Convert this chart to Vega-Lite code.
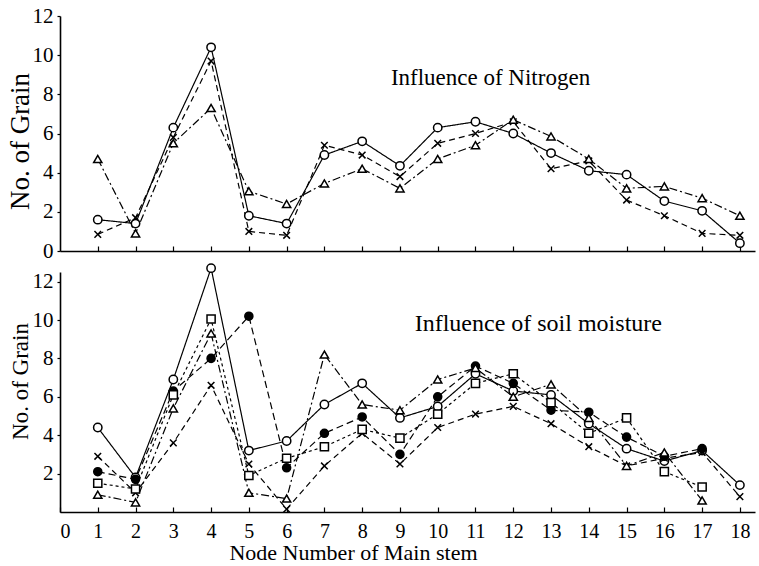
{
  "$schema": "https://vega.github.io/schema/vega-lite/v6.json",
  "padding": {"left": 6, "top": 5, "right": 5, "bottom": 2},
  "background": "white",
  "config": {
    "view": {"stroke": null},
    "font": "Liberation Serif",
    "text": {"font": "Liberation Serif"},
    "axis": {"grid": false, "domainColor": "black", "tickColor": "black", "labelColor": "black", "titleColor": "black", "labelFont": "Liberation Serif", "titleFont": "Liberation Serif", "titleFontWeight": "normal", "domainWidth": 1.6, "tickWidth": 1.2}
  },
  "datasets": {
    "nitrogen": [
      {"series": "circle", "node": 1, "grain": 1.6}, {"series": "circle", "node": 2, "grain": 1.4}, {"series": "circle", "node": 3, "grain": 6.3}, {"series": "circle", "node": 4, "grain": 10.4}, {"series": "circle", "node": 5, "grain": 1.8}, {"series": "circle", "node": 6, "grain": 1.4}, {"series": "circle", "node": 7, "grain": 4.9}, {"series": "circle", "node": 8, "grain": 5.6}, {"series": "circle", "node": 9, "grain": 4.35}, {"series": "circle", "node": 10, "grain": 6.3}, {"series": "circle", "node": 11, "grain": 6.6}, {"series": "circle", "node": 12, "grain": 6.0}, {"series": "circle", "node": 13, "grain": 5.0}, {"series": "circle", "node": 14, "grain": 4.1}, {"series": "circle", "node": 15, "grain": 3.9}, {"series": "circle", "node": 16, "grain": 2.55}, {"series": "circle", "node": 17, "grain": 2.05}, {"series": "circle", "node": 18, "grain": 0.4},
      {"series": "cross", "node": 1, "grain": 0.85}, {"series": "cross", "node": 2, "grain": 1.7}, {"series": "cross", "node": 3, "grain": 5.8}, {"series": "cross", "node": 4, "grain": 9.7}, {"series": "cross", "node": 5, "grain": 1.0}, {"series": "cross", "node": 6, "grain": 0.8}, {"series": "cross", "node": 7, "grain": 5.4}, {"series": "cross", "node": 8, "grain": 4.9}, {"series": "cross", "node": 9, "grain": 3.8}, {"series": "cross", "node": 10, "grain": 5.5}, {"series": "cross", "node": 11, "grain": 6.0}, {"series": "cross", "node": 12, "grain": 6.6}, {"series": "cross", "node": 13, "grain": 4.2}, {"series": "cross", "node": 14, "grain": 4.6}, {"series": "cross", "node": 15, "grain": 2.6}, {"series": "cross", "node": 16, "grain": 1.8}, {"series": "cross", "node": 17, "grain": 0.9}, {"series": "cross", "node": 18, "grain": 0.8},
      {"series": "triangle", "node": 1, "grain": 4.7}, {"series": "triangle", "node": 2, "grain": 0.9}, {"series": "triangle", "node": 3, "grain": 5.5}, {"series": "triangle", "node": 4, "grain": 7.3}, {"series": "triangle", "node": 5, "grain": 3.05}, {"series": "triangle", "node": 6, "grain": 2.4}, {"series": "triangle", "node": 7, "grain": 3.45}, {"series": "triangle", "node": 8, "grain": 4.2}, {"series": "triangle", "node": 9, "grain": 3.2}, {"series": "triangle", "node": 10, "grain": 4.7}, {"series": "triangle", "node": 11, "grain": 5.4}, {"series": "triangle", "node": 12, "grain": 6.7}, {"series": "triangle", "node": 13, "grain": 5.85}, {"series": "triangle", "node": 14, "grain": 4.7}, {"series": "triangle", "node": 15, "grain": 3.2}, {"series": "triangle", "node": 16, "grain": 3.3}, {"series": "triangle", "node": 17, "grain": 2.7}, {"series": "triangle", "node": 18, "grain": 1.8}
    ],
    "moisture": [
      {"series": "circle", "node": 1, "grain": 4.4}, {"series": "circle", "node": 2, "grain": 1.8}, {"series": "circle", "node": 3, "grain": 6.9}, {"series": "circle", "node": 4, "grain": 12.7}, {"series": "circle", "node": 5, "grain": 3.2}, {"series": "circle", "node": 6, "grain": 3.7}, {"series": "circle", "node": 7, "grain": 5.6}, {"series": "circle", "node": 8, "grain": 6.7}, {"series": "circle", "node": 9, "grain": 4.9}, {"series": "circle", "node": 10, "grain": 5.5}, {"series": "circle", "node": 11, "grain": 7.2}, {"series": "circle", "node": 12, "grain": 6.3}, {"series": "circle", "node": 13, "grain": 6.1}, {"series": "circle", "node": 14, "grain": 4.6}, {"series": "circle", "node": 15, "grain": 3.3}, {"series": "circle", "node": 16, "grain": 2.65}, {"series": "circle", "node": 17, "grain": 3.2}, {"series": "circle", "node": 18, "grain": 1.4},
      {"series": "cross", "node": 1, "grain": 2.9}, {"series": "cross", "node": 2, "grain": 1.0}, {"series": "cross", "node": 3, "grain": 3.6}, {"series": "cross", "node": 4, "grain": 6.6}, {"series": "cross", "node": 5, "grain": 2.5}, {"series": "cross", "node": 6, "grain": 0.15}, {"series": "cross", "node": 7, "grain": 2.4}, {"series": "cross", "node": 8, "grain": 4.1}, {"series": "cross", "node": 9, "grain": 2.5}, {"series": "cross", "node": 10, "grain": 4.4}, {"series": "cross", "node": 11, "grain": 5.1}, {"series": "cross", "node": 12, "grain": 5.5}, {"series": "cross", "node": 13, "grain": 4.6}, {"series": "cross", "node": 14, "grain": 3.4}, {"series": "cross", "node": 15, "grain": 2.4}, {"series": "cross", "node": 16, "grain": 2.8}, {"series": "cross", "node": 17, "grain": 3.1}, {"series": "cross", "node": 18, "grain": 0.8},
      {"series": "dot", "node": 1, "grain": 2.1}, {"series": "dot", "node": 2, "grain": 1.7}, {"series": "dot", "node": 3, "grain": 6.3}, {"series": "dot", "node": 4, "grain": 8.0}, {"series": "dot", "node": 5, "grain": 10.2}, {"series": "dot", "node": 6, "grain": 2.3}, {"series": "dot", "node": 7, "grain": 4.1}, {"series": "dot", "node": 8, "grain": 4.95}, {"series": "dot", "node": 9, "grain": 3.0}, {"series": "dot", "node": 10, "grain": 6.0}, {"series": "dot", "node": 11, "grain": 7.6}, {"series": "dot", "node": 12, "grain": 6.7}, {"series": "dot", "node": 13, "grain": 5.3}, {"series": "dot", "node": 14, "grain": 5.2}, {"series": "dot", "node": 15, "grain": 3.9}, {"series": "dot", "node": 16, "grain": 2.9}, {"series": "dot", "node": 17, "grain": 3.3},
      {"series": "square", "node": 1, "grain": 1.5}, {"series": "square", "node": 2, "grain": 1.2}, {"series": "square", "node": 3, "grain": 6.1}, {"series": "square", "node": 4, "grain": 10.05}, {"series": "square", "node": 5, "grain": 1.9}, {"series": "square", "node": 6, "grain": 2.8}, {"series": "square", "node": 7, "grain": 3.4}, {"series": "square", "node": 8, "grain": 4.3}, {"series": "square", "node": 9, "grain": 3.85}, {"series": "square", "node": 10, "grain": 5.1}, {"series": "square", "node": 11, "grain": 6.7}, {"series": "square", "node": 12, "grain": 7.2}, {"series": "square", "node": 13, "grain": 5.7}, {"series": "square", "node": 14, "grain": 4.1}, {"series": "square", "node": 15, "grain": 4.9}, {"series": "square", "node": 16, "grain": 2.1}, {"series": "square", "node": 17, "grain": 1.3},
      {"series": "triangle", "node": 1, "grain": 0.9}, {"series": "triangle", "node": 2, "grain": 0.5}, {"series": "triangle", "node": 3, "grain": 5.4}, {"series": "triangle", "node": 4, "grain": 9.3}, {"series": "triangle", "node": 5, "grain": 1.0}, {"series": "triangle", "node": 6, "grain": 0.7}, {"series": "triangle", "node": 7, "grain": 8.2}, {"series": "triangle", "node": 8, "grain": 5.6}, {"series": "triangle", "node": 9, "grain": 5.3}, {"series": "triangle", "node": 10, "grain": 6.9}, {"series": "triangle", "node": 11, "grain": 7.5}, {"series": "triangle", "node": 12, "grain": 6.0}, {"series": "triangle", "node": 13, "grain": 6.65}, {"series": "triangle", "node": 14, "grain": 4.9}, {"series": "triangle", "node": 15, "grain": 2.4}, {"series": "triangle", "node": 16, "grain": 3.1}, {"series": "triangle", "node": 17, "grain": 0.6}
    ]
  },
  "bounds": "flush",
  "spacing": 21,
  "vconcat": [
    {
      "width": 695,
      "height": 235,
      "layer": [
        {
          "data": {"name": "nitrogen"},
          "encoding": {
            "x": {"field": "node", "type": "quantitative", "scale": {"domain": [0, 18.4], "nice": false, "zero": false},
                  "axis": {"values": [1,2,3,4,5,6,7,8,9,10,11,12,13,14,15,16,17,18], "labels": false, "title": null, "tickSize": -5}},
            "y": {"field": "grain", "type": "quantitative", "scale": {"domain": [0, 12], "nice": false},
                  "axis": {"values": [0,2,4,6,8,10,12], "title": "No. of Grain", "titleFont": "Liberation Serif", "labelFont": "Liberation Serif", "titleFontSize": 27, "titleX": -40, "titleY": 125, "titleBaseline": "middle", "labelFontSize": 21, "tickSize": 3, "labelPadding": 4}}
          },
          "layer": [
            {"mark": {"type": "line", "color": "black", "strokeWidth": 1.2},
             "encoding": {
               "detail": {"field": "series"},
               "strokeDash": {"field": "series", "type": "nominal", "scale": {"domain": ["circle", "cross", "triangle", "square", "dot"], "range": [[1, 0], [6, 4], [8, 3, 2, 3], [3, 3], [7, 4]]}, "legend": null}
             }},
            {"mark": {"type": "point", "filled": true, "stroke": "black", "strokeWidth": 1.5, "opacity": 1},
             "encoding": {
               "shape": {"field": "series", "type": "nominal", "scale": {"domain": ["circle", "cross", "triangle", "square", "dot"], "range": ["circle", "M-0.8,-0.8L0.8,0.8M0.8,-0.8L-0.8,0.8", "triangle-up", "square", "circle"]}, "legend": null},
               "fill": {"field": "series", "type": "nominal", "scale": {"domain": ["circle", "cross", "triangle", "square", "dot"], "range": ["white", "white", "white", "white", "black"]}, "legend": null},
               "size": {"field": "series", "type": "nominal", "scale": {"domain": ["circle", "cross", "triangle", "square", "dot"], "range": [70, 65, 85, 45, 22]}, "legend": null}
             }}
          ]
        },
        {"data": {"values": [{"label": "Influence of Nitrogen"}]},
         "mark": {"type": "text", "align": "left", "baseline": "middle", "fontSize": 23, "font": "Liberation Serif", "color": "black"},
         "encoding": {
           "x": {"datum": 8.76, "type": "quantitative", "scale": {"domain": [0, 18.4], "nice": false, "zero": false},
                 "axis": {"values": [1,2,3,4,5,6,7,8,9,10,11,12,13,14,15,16,17,18], "labels": false, "title": null, "tickSize": -5}},
           "y": {"datum": 8.84, "type": "quantitative", "scale": {"domain": [0, 12], "nice": false},
                 "axis": {"values": [0,2,4,6,8,10,12], "title": "No. of Grain", "titleFont": "Liberation Serif", "labelFont": "Liberation Serif", "titleFontSize": 27, "titleX": -40, "titleY": 125, "titleBaseline": "middle", "labelFontSize": 21, "tickSize": 3, "labelPadding": 4}},
           "text": {"field": "label", "type": "nominal"}
         }}
      ]
    },
    {
      "width": 695,
      "height": 240,
      "layer": [
        {
          "data": {"name": "moisture"},
          "encoding": {
            "x": {"field": "node", "type": "quantitative", "scale": {"domain": [0, 18.4], "nice": false, "zero": false},
                  "axis": {"values": [0,1,2,3,4,5,6,7,8,9,10,11,12,13,14,15,16,17,18], "labelFont": "Liberation Serif", "titleFont": "Liberation Serif", "labelFontSize": 20, "tickSize": -5, "labelPadding": 14, "title": "Node Number of Main stem", "titleFontSize": 22, "titleX": 293, "titleAlign": "center", "titlePadding": 1}},
            "y": {"field": "grain", "type": "quantitative", "scale": {"domain": [0, 12.5], "nice": false},
                  "axis": {"values": [2,4,6,8,10,12], "title": "No. of Grain", "titleFont": "Liberation Serif", "labelFont": "Liberation Serif", "titleFontSize": 23, "titleX": -40, "titleY": 109, "titleBaseline": "middle", "labelFontSize": 21, "tickSize": 3, "labelPadding": 4}}
          },
          "layer": [
            {"mark": {"type": "line", "color": "black", "strokeWidth": 1.2},
             "encoding": {
               "detail": {"field": "series"},
               "strokeDash": {"field": "series", "type": "nominal", "scale": {"domain": ["circle", "cross", "triangle", "square", "dot"], "range": [[1, 0], [5, 3, 1, 3], [8, 3, 2, 3], [3, 3], [7, 4]]}, "legend": null}
             }},
            {"mark": {"type": "point", "filled": true, "stroke": "black", "strokeWidth": 1.5, "opacity": 1},
             "encoding": {
               "shape": {"field": "series", "type": "nominal", "scale": {"domain": ["circle", "cross", "triangle", "square", "dot"], "range": ["circle", "M-0.8,-0.8L0.8,0.8M0.8,-0.8L-0.8,0.8", "triangle-up", "square", "circle"]}, "legend": null},
               "fill": {"field": "series", "type": "nominal", "scale": {"domain": ["circle", "cross", "triangle", "square", "dot"], "range": ["white", "white", "white", "white", "black"]}, "legend": null},
               "size": {"field": "series", "type": "nominal", "scale": {"domain": ["circle", "cross", "triangle", "square", "dot"], "range": [70, 65, 85, 45, 22]}, "legend": null}
             }}
          ]
        },
        {"data": {"values": [{"label": "Influence of soil moisture"}]},
         "mark": {"type": "text", "align": "left", "baseline": "middle", "fontSize": 24, "font": "Liberation Serif", "color": "black"},
         "encoding": {
           "x": {"datum": 9.39, "type": "quantitative", "scale": {"domain": [0, 18.4], "nice": false, "zero": false},
                 "axis": {"values": [0,1,2,3,4,5,6,7,8,9,10,11,12,13,14,15,16,17,18], "labelFont": "Liberation Serif", "titleFont": "Liberation Serif", "labelFontSize": 20, "tickSize": -5, "labelPadding": 14, "title": "Node Number of Main stem", "titleFontSize": 22, "titleX": 293, "titleAlign": "center", "titlePadding": 1}},
           "y": {"datum": 9.8, "type": "quantitative", "scale": {"domain": [0, 12.5], "nice": false},
                 "axis": {"values": [2,4,6,8,10,12], "title": "No. of Grain", "titleFont": "Liberation Serif", "labelFont": "Liberation Serif", "titleFontSize": 23, "titleX": -40, "titleY": 109, "titleBaseline": "middle", "labelFontSize": 21, "tickSize": 3, "labelPadding": 4}},
           "text": {"field": "label", "type": "nominal"}
         }}
      ]
    }
  ]
}
